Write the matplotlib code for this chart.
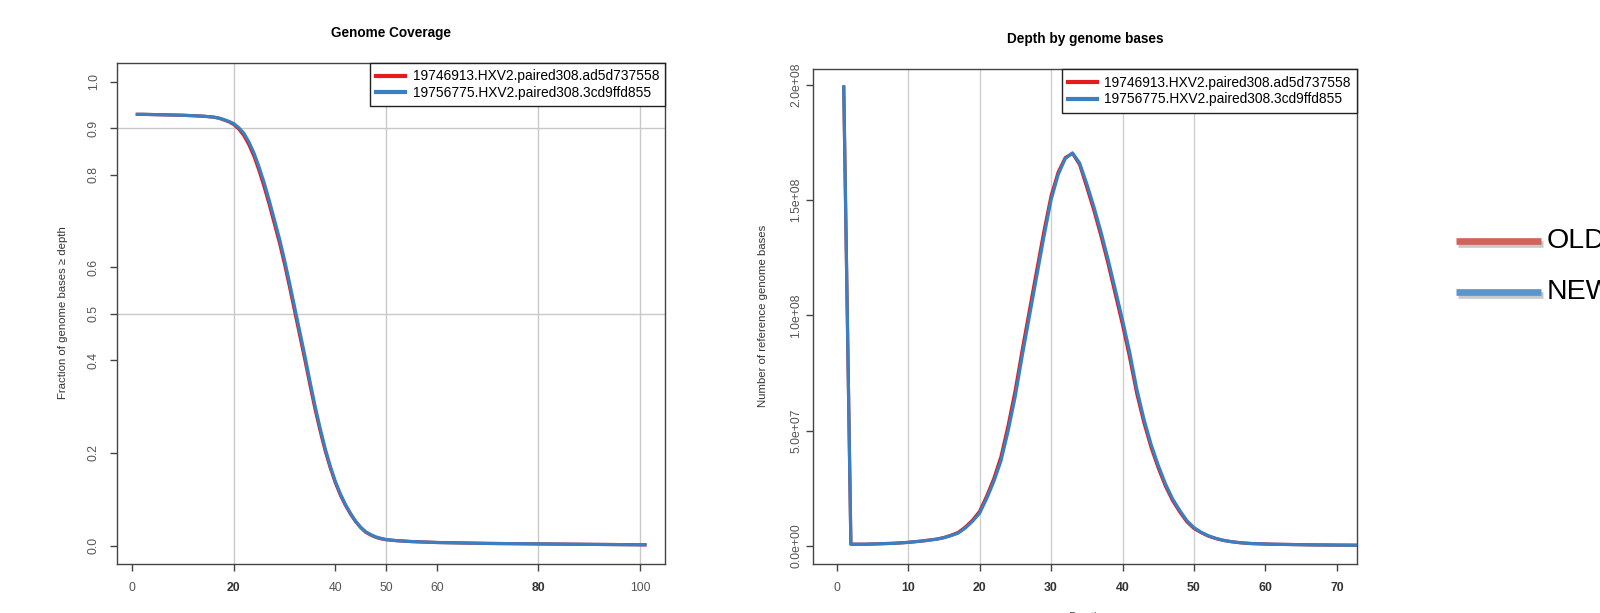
import matplotlib
matplotlib.use('Agg')
import matplotlib.pyplot as plt
import matplotlib.patheffects as pe

plt.rcParams['font.family'] = ['Liberation Sans', 'DejaVu Sans']

W, H = 1600, 613

# series names
OLD_NAME = '19746913.HXV2.paired308.ad5d737558'
NEW_NAME = '19756775.HXV2.paired308.3cd9ffd855'

# left panel: fraction of genome bases >= depth
cov_depth = [1, 2, 4, 6, 8, 10, 12, 14, 16, 17, 18, 19, 20, 21, 22, 23, 24, 25, 26, 27, 28, 29,
             30, 31, 32, 33, 34, 35, 36, 37, 38, 39, 40, 41, 42, 43, 44, 45, 46, 47, 48, 49,
             50, 52, 55, 60, 65, 70, 80, 90, 101]
cov_new = [0.930, 0.930, 0.9295, 0.929, 0.9285, 0.928, 0.927, 0.926, 0.924, 0.922, 0.919, 0.915,
           0.910, 0.901, 0.889, 0.870, 0.846, 0.816, 0.782, 0.744, 0.703, 0.662, 0.616, 0.566,
           0.514, 0.462, 0.410, 0.355, 0.302, 0.254, 0.210, 0.172, 0.139, 0.112, 0.089, 0.070,
           0.053, 0.040, 0.030, 0.024, 0.019, 0.016, 0.0135, 0.011, 0.009, 0.007, 0.006, 0.005,
           0.004, 0.003, 0.002]
cov_old = [0.930, 0.930, 0.9295, 0.929, 0.9285, 0.928, 0.927, 0.926, 0.924, 0.922, 0.918, 0.914,
           0.908, 0.898, 0.884, 0.864, 0.839, 0.808, 0.773, 0.735, 0.694, 0.653, 0.607, 0.557,
           0.505, 0.453, 0.401, 0.347, 0.295, 0.248, 0.205, 0.168, 0.136, 0.109, 0.087, 0.068,
           0.052, 0.039, 0.029, 0.023, 0.018, 0.015, 0.013, 0.011, 0.009, 0.007, 0.006, 0.005,
           0.004, 0.003, 0.002]

# right panel: number of reference bases per depth (millions)
dep_depth = list(range(1, 74))
dep_new = [199, 0.8, 0.8, 0.8, 0.9, 1.0, 1.1, 1.2, 1.4, 1.6, 1.9, 2.2, 2.6, 3.0, 3.6, 4.5, 5.6,
           7.8, 10.7, 14.2, 20.6, 28, 37, 50, 65, 83, 100, 117, 134, 150, 161, 168, 170.4, 166,
           157, 147, 136, 124, 111, 98, 84, 68, 55, 44, 35, 27, 20.5, 15.5, 11, 8, 6, 4.5, 3.4,
           2.6, 2.0, 1.6, 1.3, 1.1, 1.0, 0.9, 0.8, 0.75, 0.7, 0.65, 0.6, 0.55, 0.5, 0.48, 0.45,
           0.42, 0.4, 0.38, 0.36]
dep_old = [199, 0.8, 0.8, 0.8, 0.9, 1.0, 1.1, 1.2, 1.4, 1.6, 1.9, 2.2, 2.6, 3.0, 3.7, 4.7, 5.9,
           8.2, 11.2, 15.0, 21.7, 29.3, 38.8, 52.3, 67.7, 85.6, 102.6, 119.6, 136.4, 151.7, 162.1,
           168.4, 170.2, 165.3, 155.5, 145.4, 134.2, 122.1, 109, 95.9, 81.6, 66, 53.4, 42.7, 33.8,
           26, 19.7, 14.8, 10.5, 7.6, 5.8, 4.3, 3.3, 2.5, 2.0, 1.6, 1.3, 1.1, 1.0, 0.9, 0.8, 0.75,
           0.7, 0.65, 0.6, 0.55, 0.5, 0.48, 0.45, 0.42, 0.4, 0.38, 0.36]

cov_xticks = [0, 20, 40, 50, 60, 80, 100]
cov_bold_x = [20, 80]
cov_yticks = [0.0, 0.2, 0.4, 0.5, 0.6, 0.8, 0.9, 1.0]
cov_vgrid = [20, 50, 80, 100]
cov_hgrid = [0.9, 0.5]

dep_xticks = [0, 10, 20, 30, 40, 50, 60, 70]
dep_yticks = [0, 5e7, 1e8, 1.5e8, 2e8]
dep_ylabels = ['0.0e+00', '5.0e+07', '1.0e+08', '1.5e+08', '2.0e+08']
dep_vgrid = [10, 20, 30, 40, 50]

RED = '#e41a1c'
BLUE = '#3a7fc1'
AXC = '#444444'


def px_rect(x0, y0, x1, y1):
    return [x0 / W, 1 - y1 / H, (x1 - x0) / W, (y1 - y0) / H]


def style_axes(ax, ypad):
    for s in ax.spines.values():
        s.set_color(AXC)
        s.set_linewidth(1.0)
    ax.tick_params(axis='both', direction='out', length=5, width=1.0, color=AXC,
                   labelcolor='#555555', labelsize=8.8)
    ax.tick_params(axis='x', pad=8)
    ax.tick_params(axis='y', pad=ypad, labelrotation=90)
    for lab in ax.get_yticklabels():
        lab.set_va('center')


def add_legend(ax):
    leg = ax.legend(loc='upper right', fontsize=9.9, frameon=True, fancybox=False,
                    edgecolor='#222222', framealpha=1, borderaxespad=0, handlelength=2.1,
                    handletextpad=0.55, borderpad=0.45, labelspacing=0.2)
    leg.get_frame().set_linewidth(1.0)
    for ln in leg.get_lines():
        ln.set_linewidth(3.0)
    return leg


fig = plt.figure(figsize=(W / 100, H / 100), dpi=100)

# ---- left: Genome Coverage
ax1 = fig.add_axes(px_rect(117, 63.3, 665.3, 564.3))
for x in cov_vgrid:
    ax1.axvline(x, color='#c8c8c8', lw=1.0, zorder=0)
for y in cov_hgrid:
    ax1.axhline(y, color='#c8c8c8', lw=1.0, zorder=0)
ax1.plot(cov_depth, cov_old, color=RED, lw=2.3, label=OLD_NAME, zorder=2)
ax1.plot(cov_depth, cov_new, color=BLUE, lw=2.3, label=NEW_NAME, zorder=3)
ax1.set_xlim(-3, 105)
ax1.set_ylim(-0.04, 1.04)
ax1.set_xticks(cov_xticks)
ax1.set_xticklabels([str(v) for v in cov_xticks])
ax1.set_yticks(cov_yticks)
ax1.set_yticklabels([f'{v:.1f}' for v in cov_yticks])
style_axes(ax1, 7.5)
for lab, v in zip(ax1.get_xticklabels(), cov_xticks):
    if v in cov_bold_x:
        lab.set_fontweight('bold')
        lab.set_color('#333333')
ax1.set_title('Genome Coverage', fontsize=9.8, fontweight='bold', pad=19)
fig.text(63 / W, 1 - 313 / H, 'Fraction of genome bases \u2265 depth', rotation=90,
         ha='center', va='center', fontsize=8.2, color='#333333')
add_legend(ax1)

# ---- right: Depth by genome bases
ax2 = fig.add_axes(px_rect(813, 69.4, 1357, 564.3))
for x in dep_vgrid:
    ax2.axvline(x, color='#cfcfcf', lw=1.0, zorder=0)
ax2.plot(dep_depth, [v * 1e6 for v in dep_old], color=RED, lw=2.3, label=OLD_NAME, zorder=2)
ax2.plot(dep_depth, [v * 1e6 for v in dep_new], color=BLUE, lw=2.3, label=NEW_NAME, zorder=3)
ax2.set_xlim(-3.3, 72.8)
ax2.set_ylim(-0.079e8, 2.066e8)
ax2.set_xticks(dep_xticks)
ax2.set_xticklabels([str(v) for v in dep_xticks])
ax2.set_yticks(dep_yticks)
ax2.set_yticklabels(dep_ylabels)
style_axes(ax2, 2.5)
for lab, v in zip(ax2.get_xticklabels(), dep_xticks):
    if v != 0:
        lab.set_fontweight('bold')
        lab.set_color('#333333')
ax2.set_title('Depth by genome bases', fontsize=9.8, fontweight='bold', pad=19)
fig.text(763 / W, 1 - 316 / H, 'Number of reference genome bases', rotation=90,
         ha='center', va='center', fontsize=8.2, color='#333333')
fig.text(1085 / W, 1 - 618 / H, 'Depth', ha='center', va='center', fontsize=8.5,
         color='#555555')
add_legend(ax2)

# ---- slide legend on the far right (cut by the frame)
shadow = [pe.SimpleLineShadow(offset=(1.5, -2.5), shadow_color='#888888', alpha=0.45),
          pe.Normal()]
lx0, lx1 = 1456 / W, 1541 / W
for ytop, col, name in [(241, '#d0645a', 'OLD'), (292, '#5a96cd', 'NEW')]:
    yy = 1 - ytop / H
    fig.add_artist(plt.Line2D([lx0, lx1], [yy, yy], color=col, lw=4.8,
                              solid_capstyle='butt', path_effects=shadow,
                              transform=fig.transFigure))
    fig.text(1547 / W, yy, name, ha='left', va='center', fontsize=20.5, color='black')

fig.savefig('out.png', dpi=100)
